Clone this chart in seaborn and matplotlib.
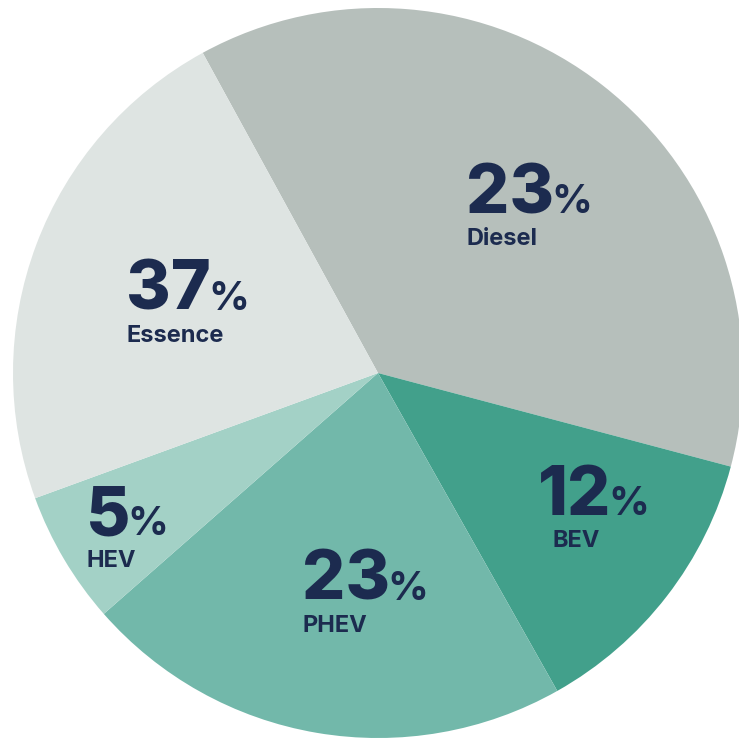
import matplotlib
matplotlib.use("Agg")
import matplotlib.pyplot as plt
import seaborn as sns
import numpy as np

# Data
categories = ["Diesel", "BEV", "PHEV", "HEV", "Essence"]
shares = [37.1, 12.7, 21.7, 5.9, 22.6]         # slice sizes as drawn
label_values = ["23", "12", "23", "5", "37"]   # percentages as printed
colors = ["#b6bfbb", "#42a08b", "#72b8aa", "#a3d1c6", "#dee4e2"]

sns.set_theme(style="white")
plt.rcParams["font.family"] = ["Inter", "DejaVu Sans"]

W, H, DPI = 739, 738, 100
fig = plt.figure(figsize=(W / DPI, H / DPI), dpi=DPI)
ax = fig.add_axes([0, 0, 1, 1])
ax.axis("off")

R_PX = 365.0
CX, CY = 378.0, 373.0  # pixel centre (from top)

ax.pie(shares, colors=colors, startangle=118.7, counterclock=False,
       radius=1.0, wedgeprops=dict(linewidth=0))
ax.set_xlim(-CX / R_PX, (W - CX) / R_PX)
ax.set_ylim(-(H - CY) / R_PX, CY / R_PX)
ax.set_aspect("auto")

# label anchors (pixel coords from top-left: left x, baseline y of big number)
anchors = {
    "Diesel": (466, 213),
    "BEV": (538, 515),
    "PHEV": (302, 600),
    "HEV": (86, 535),
    "Essence": (126, 310),
}
sub_offsets = {"BEV": 14}

navy = "#1c2b4f"
fig.canvas.draw()
renderer = fig.canvas.get_renderer()

def px_to_fig(x, y):
    return x / W, 1 - y / H

for cat, val in zip(categories, label_values):
    x, y = anchors[cat]
    fx, fy = px_to_fig(x, y)
    t = fig.text(fx, fy, val, fontsize=49, fontweight=800, color=navy,
                 ha="left", va="baseline")
    bb = t.get_window_extent(renderer)
    x_end = bb.x1 / W
    fig.text(x_end - 3 / W, fy, "%", fontsize=29, fontweight=700,
             color=navy, ha="left", va="baseline")
    lx = x + sub_offsets.get(cat, 0)
    fx2, fy2 = px_to_fig(lx, y + 32)
    fig.text(fx2, fy2, cat, fontsize=17, fontweight=700, color=navy,
             ha="left", va="baseline")

fig.savefig("out.png", dpi=DPI, facecolor="white")
